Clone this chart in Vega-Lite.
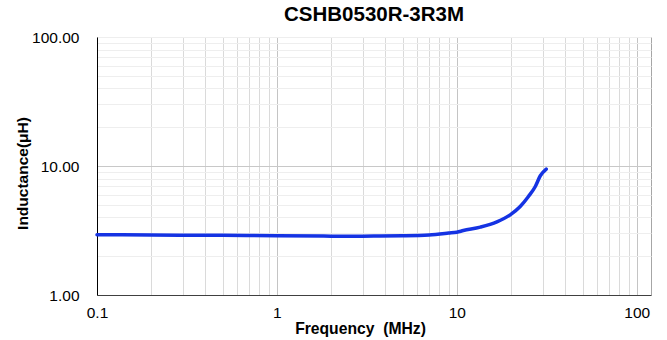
{
  "$schema": "https://vega.github.io/schema/vega-lite/v6.json",
  "autosize": {"type": "none"},
  "width": 554,
  "height": 258,
  "padding": {"left": 97, "top": 37, "right": 16, "bottom": 45},
  "background": "white",
  "config": {
    "font": "Liberation Sans",
    "view": {"stroke": "#a6a6a6", "strokeWidth": 1}
  },
  "title": {
    "text": "CSHB0530R-3R3M",
    "font": "Liberation Sans",
    "fontSize": 20.5,
    "fontWeight": "bold",
    "color": "#000000",
    "anchor": "middle",
    "dx": 0,
    "offset": 5
  },
  "data": {
    "values": [
      {"f": 0.1, "L": 2.93},
      {"f": 0.2, "L": 2.92},
      {"f": 0.3, "L": 2.91},
      {"f": 0.5, "L": 2.9},
      {"f": 1, "L": 2.88},
      {"f": 2, "L": 2.86},
      {"f": 3, "L": 2.86},
      {"f": 3.74, "L": 2.87},
      {"f": 5, "L": 2.88},
      {"f": 7, "L": 2.92},
      {"f": 9, "L": 3.02},
      {"f": 10, "L": 3.07},
      {"f": 10.87, "L": 3.16},
      {"f": 13.5, "L": 3.36},
      {"f": 16.7, "L": 3.69},
      {"f": 19.8, "L": 4.18},
      {"f": 22.5, "L": 4.85},
      {"f": 25.0, "L": 5.8},
      {"f": 27.3, "L": 6.94},
      {"f": 29.1, "L": 8.4},
      {"f": 31.4, "L": 9.47}
    ]
  },
  "mark": {"type": "line", "color": "#1533e3", "strokeWidth": 3.5, "interpolate": "monotone", "strokeCap": "round"},
  "encoding": {
    "x": {
      "field": "f",
      "type": "quantitative",
      "scale": {"type": "log", "domain": [0.1, 120], "nice": false},
      "axis": {
        "title": "Frequency\u00a0 (MHz)",
        "titleFont": "Liberation Sans",
        "titleFontSize": 15.7,
        "titleFontWeight": "bold",
        "titleColor": "#000000",
        "titleX": 263,
        "titleY": 38,
        "titleBaseline": "alphabetic",
        "labelFont": "Liberation Sans",
        "labelFontSize": 15.5,
        "labelColor": "#000000",
        "labelPadding": 10,
        "labelFlush": false,
        "labelOverlap": false,
        "ticks": false,
        "domainColor": "#404040",
        "domainWidth": 1,
        "values": [0.1, 0.2, 0.3, 0.4, 0.5, 0.6, 0.7, 0.8, 0.9, 1, 2, 3, 4, 5, 6, 7, 8, 9, 10, 20, 30, 40, 50, 60, 70, 80, 90, 100],
        "labelExpr": "datum.value == 0.1 ? '0.1' : datum.value == 1 ? '1' : datum.value == 10 ? '10' : datum.value == 100 ? '100' : ''",
        "grid": true,
        "gridColor": {"condition": {"test": "datum.value == 1 || datum.value == 10 || datum.value == 100", "value": "#c4c4c4"}, "value": "#dadada"},
        "gridWidth": 1
      }
    },
    "y": {
      "field": "L",
      "type": "quantitative",
      "scale": {"type": "log", "domain": [1, 100], "nice": false},
      "axis": {
        "title": "Inductance(μH)",
        "titleFont": "Liberation Sans",
        "titleFontSize": 15.5,
        "titleFontWeight": "bold",
        "titleColor": "#000000",
        "titleX": -75,
        "titleY": 136,
        "titleBaseline": "middle",
        "titleAlign": "center",
        "titleAngle": -90,
        "labelFont": "Liberation Sans",
        "labelFontSize": 15.5,
        "labelColor": "#000000",
        "labelPadding": 18,
        "labelOverlap": false,
        "ticks": false,
        "domainColor": "#000000",
        "domainWidth": 1,
        "values": [1, 2, 3, 4, 5, 6, 7, 8, 9, 10, 20, 30, 40, 50, 60, 70, 80, 90, 100],
        "labelExpr": "datum.value == 1 ? '1.00' : datum.value == 10 ? '10.00' : datum.value == 100 ? '100.00' : ''",
        "grid": true,
        "gridColor": {"condition": {"test": "datum.value == 10", "value": "#c8c8c8"}, "value": "#eeeeee"},
        "gridWidth": 1
      }
    }
  }
}
